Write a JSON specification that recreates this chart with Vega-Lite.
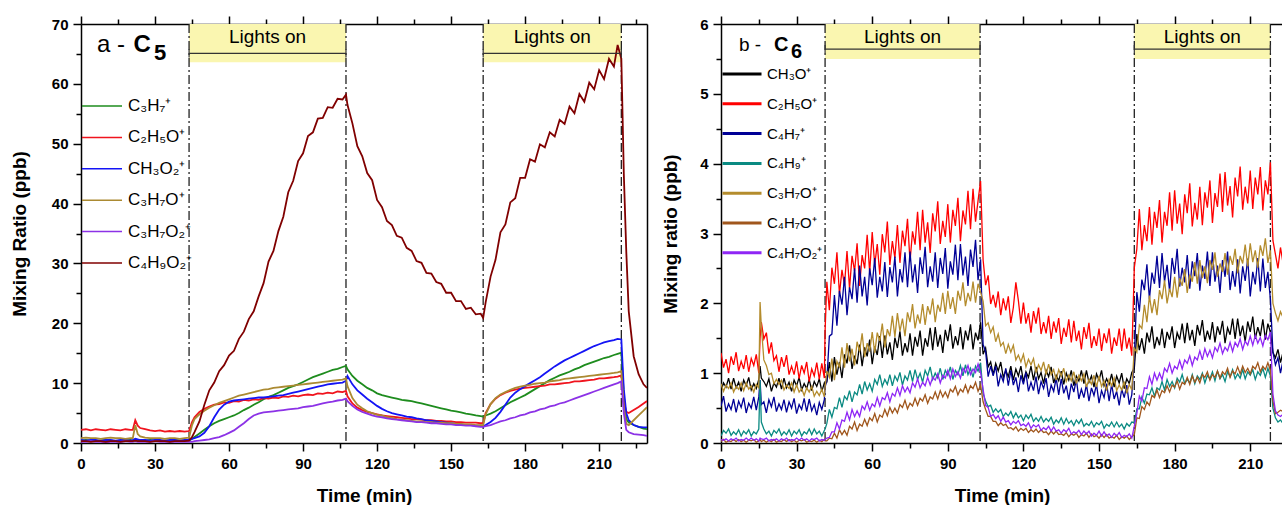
{
"$schema": "https://vega.github.io/schema/vega-lite/v6.json",
"padding": {"left": 10, "top": 15, "right": 0, "bottom": 0},
"background": "white",
"spacing": 14,
"config": {
  "view": {"stroke": null},
  "font": "Liberation Sans",
  "axis": {"labelFont": "Liberation Sans", "labelFontWeight": "bold", "labelFontSize": 15, "labelColor": "#000", "titleFont": "Liberation Sans", "titleFontWeight": "bold", "titleFontSize": 19, "titleColor": "#000", "domainColor": "#000", "domainWidth": 1.5, "tickColor": "#000", "tickWidth": 1.5, "grid": false, "labelPadding": 5, "tickSize": 8, "labelFlush": false, "labelOverlap": false, "zindex": 1}
},
"resolve": {"scale": {"color": "independent"}},
"hconcat": [
{
  "width": 566, "height": 419,
  "data": {"values": [{"start": 43.8, "end": 107.4}, {"start": 163, "end": 219}]},
  "resolve": {"axis": {"x": "independent", "y": "independent"}},
  "layer": [
    {"mark": {"type": "rect", "color": "#faf6b0"},
     "encoding": {
       "x": {"field": "start", "type": "quantitative", "scale": {"domain": [0, 229.4], "nice": false, "zero": false},
             "axis": {"orient": "bottom", "values": [0,30,60,90,120,150,180,210], "title": "Time (min)", "titlePadding": 15}},
       "x2": {"field": "end"},
       "y": {"datum": 63.6, "type": "quantitative", "scale": {"domain": [0, 70], "nice": false, "zero": false},
             "axis": {"orient": "left", "values": [0,10,20,30,40,50,60,70], "title": "Mixing Ratio (ppb)", "titlePadding": 22}},
       "y2": {"datum": 70}
     }},
    {"transform": [{"fold": ["start", "end"], "as": ["edge", "tx"]}],
     "mark": {"type": "rule", "strokeDash": [9,3,2,3], "strokeWidth": 1.3, "color": "#222"},
     "encoding": {
       "x": {"field": "tx", "type": "quantitative", "axis": {"orient": "top", "values": [0,30,60,90,120,150,180,210], "labels": false, "title": null}}
     }},
    {"transform": [{"fold": ["g","r","b","o","p","d"], "as": ["s", "v"]}],
     "data": {"values": [
{"t":0,"g":0.4,"r":2.2,"b":0.5,"o":0.8,"p":0.2,"d":0.3},
{"t":2,"g":0.5,"r":2.3,"b":0.4,"o":0.9,"p":0.2,"d":0.3},
{"t":4,"g":0.4,"r":2.1,"b":0.5,"o":0.8,"p":0.3,"d":0.2},
{"t":6,"g":0.3,"r":2.3,"b":0.5,"o":0.8,"p":0.2,"d":0.3},
{"t":8,"g":0.4,"r":2.2,"b":0.4,"o":0.7,"p":0.2,"d":0.3},
{"t":10,"g":0.5,"r":2.1,"b":0.5,"o":0.8,"p":0.1,"d":0.2},
{"t":12,"g":0.4,"r":2.3,"b":0.5,"o":0.9,"p":0.2,"d":0.3},
{"t":14,"g":0.3,"r":2.2,"b":0.4,"o":0.8,"p":0.2,"d":0.3},
{"t":16,"g":0.4,"r":2.1,"b":0.5,"o":0.8,"p":0.2,"d":0.2},
{"t":18,"g":0.4,"r":2.3,"b":0.5,"o":0.7,"p":0.3,"d":0.3},
{"t":20,"g":0.5,"r":2.2,"b":0.4,"o":0.8,"p":0.2,"d":0.3},
{"t":21,"g":0.4,"r":2.2,"b":0.5,"o":0.8,"p":0.2,"d":0.3},
{"t":22,"g":0.6,"r":3.8,"b":0.7,"o":3.0,"p":0.3,"d":0.4},
{"t":23,"g":0.5,"r":2.9,"b":0.6,"o":1.5,"p":0.2,"d":0.3},
{"t":24,"g":0.4,"r":2.5,"b":0.5,"o":1.1,"p":0.2,"d":0.3},
{"t":26,"g":0.4,"r":2.3,"b":0.5,"o":0.9,"p":0.2,"d":0.3},
{"t":28,"g":0.5,"r":2.1,"b":0.4,"o":0.8,"p":0.2,"d":0.2},
{"t":30,"g":0.4,"r":2.0,"b":0.5,"o":0.8,"p":0.3,"d":0.3},
{"t":32,"g":0.3,"r":2.1,"b":0.5,"o":0.8,"p":0.2,"d":0.3},
{"t":34,"g":0.4,"r":1.9,"b":0.4,"o":0.7,"p":0.2,"d":0.3},
{"t":36,"g":0.4,"r":2.0,"b":0.5,"o":0.8,"p":0.2,"d":0.2},
{"t":38,"g":0.5,"r":1.9,"b":0.5,"o":0.8,"p":0.2,"d":0.3},
{"t":40,"g":0.4,"r":2.0,"b":0.4,"o":0.7,"p":0.2,"d":0.3},
{"t":42,"g":0.4,"r":1.9,"b":0.5,"o":0.8,"p":0.2,"d":0.3},
{"t":43.8,"g":0.4,"r":2.0,"b":0.5,"o":0.9,"p":0.2,"d":0.4},
{"t":45,"g":0.7,"r":3.5,"b":0.7,"o":3.0,"p":0.2,"d":1.0},
{"t":46,"g":1.0,"r":4.3,"b":0.8,"o":4.0,"p":0.3,"d":1.8},
{"t":48,"g":1.6,"r":5.2,"b":1.1,"o":4.8,"p":0.4,"d":3.6},
{"t":50,"g":2.2,"r":5.7,"b":1.7,"o":5.4,"p":0.5,"d":6.4},
{"t":52,"g":2.8,"r":6.1,"b":2.8,"o":5.9,"p":0.6,"d":8.8},
{"t":54,"g":3.3,"r":6.4,"b":4.3,"o":6.3,"p":0.8,"d":10.1},
{"t":56,"g":3.7,"r":6.5,"b":5.6,"o":6.7,"p":1.0,"d":12.0},
{"t":58,"g":4.0,"r":6.8,"b":6.4,"o":7.0,"p":1.3,"d":13.0},
{"t":60,"g":4.3,"r":6.7,"b":6.9,"o":7.3,"p":1.7,"d":14.6},
{"t":62,"g":4.6,"r":7.0,"b":7.1,"o":7.6,"p":2.1,"d":15.4},
{"t":64,"g":5.0,"r":6.9,"b":7.2,"o":7.9,"p":2.7,"d":17.4},
{"t":66,"g":5.5,"r":7.2,"b":7.3,"o":8.1,"p":3.3,"d":18.6},
{"t":68,"g":5.9,"r":7.1,"b":7.4,"o":8.3,"p":4.0,"d":20.7},
{"t":70,"g":6.4,"r":7.3,"b":7.5,"o":8.5,"p":4.6,"d":22.0},
{"t":72,"g":6.8,"r":7.2,"b":7.6,"o":8.7,"p":4.9,"d":24.5},
{"t":74,"g":7.3,"r":7.5,"b":7.6,"o":8.9,"p":5.1,"d":26.7},
{"t":76,"g":7.7,"r":7.4,"b":7.7,"o":9.0,"p":5.2,"d":30.3},
{"t":78,"g":8.0,"r":7.6,"b":7.8,"o":9.2,"p":5.3,"d":32.1},
{"t":80,"g":8.4,"r":7.5,"b":7.9,"o":9.3,"p":5.4,"d":35.4},
{"t":82,"g":8.8,"r":7.8,"b":8.0,"o":9.4,"p":5.5,"d":37.8},
{"t":84,"g":9.2,"r":7.7,"b":8.2,"o":9.5,"p":5.6,"d":41.9},
{"t":86,"g":9.5,"r":7.9,"b":8.4,"o":9.6,"p":5.7,"d":43.8},
{"t":88,"g":9.8,"r":7.8,"b":8.6,"o":9.7,"p":5.8,"d":47.1},
{"t":90,"g":10.2,"r":8.0,"b":8.8,"o":9.8,"p":6.0,"d":48.4},
{"t":92,"g":10.6,"r":8.1,"b":9.0,"o":9.9,"p":6.1,"d":51.3},
{"t":94,"g":11.0,"r":8.0,"b":9.2,"o":10.0,"p":6.2,"d":51.9},
{"t":96,"g":11.3,"r":8.3,"b":9.4,"o":10.1,"p":6.4,"d":54.2},
{"t":98,"g":11.6,"r":8.2,"b":9.6,"o":10.2,"p":6.6,"d":54.3},
{"t":100,"g":11.9,"r":8.4,"b":9.8,"o":10.3,"p":6.8,"d":56.1},
{"t":102,"g":12.2,"r":8.3,"b":9.9,"o":10.4,"p":6.9,"d":56.0},
{"t":104,"g":12.4,"r":8.6,"b":10.0,"o":10.5,"p":7.1,"d":57.5},
{"t":106,"g":12.7,"r":8.5,"b":10.1,"o":10.6,"p":7.2,"d":57.4},
{"t":107.4,"g":12.9,"r":8.7,"b":10.4,"o":10.8,"p":7.4,"d":58.2},
{"t":108,"g":12.3,"r":7.8,"b":11.2,"o":9.5,"p":7.0,"d":56.5},
{"t":110,"g":11.2,"r":6.6,"b":9.8,"o":7.5,"p":6.2,"d":53.4},
{"t":112,"g":10.4,"r":5.9,"b":8.8,"o":6.4,"p":5.6,"d":49.6},
{"t":114,"g":9.8,"r":5.5,"b":8.1,"o":5.8,"p":5.2,"d":47.9},
{"t":116,"g":9.2,"r":5.2,"b":7.4,"o":5.3,"p":4.9,"d":45.1},
{"t":118,"g":8.8,"r":5.0,"b":6.8,"o":5.0,"p":4.6,"d":43.9},
{"t":120,"g":8.3,"r":4.8,"b":6.2,"o":4.7,"p":4.4,"d":40.6},
{"t":122,"g":8.0,"r":4.6,"b":5.7,"o":4.6,"p":4.3,"d":39.4},
{"t":124,"g":7.8,"r":4.5,"b":5.3,"o":4.3,"p":4.1,"d":37.1},
{"t":126,"g":7.6,"r":4.4,"b":5.0,"o":4.2,"p":4.0,"d":36.4},
{"t":128,"g":7.4,"r":4.3,"b":4.8,"o":4.0,"p":3.9,"d":34.6},
{"t":130,"g":7.2,"r":4.2,"b":4.6,"o":3.9,"p":3.8,"d":34.3},
{"t":132,"g":7.1,"r":4.1,"b":4.4,"o":3.8,"p":3.7,"d":32.6},
{"t":134,"g":7.0,"r":4.0,"b":4.3,"o":3.7,"p":3.6,"d":32.1},
{"t":136,"g":6.8,"r":4.0,"b":4.1,"o":3.6,"p":3.5,"d":30.4},
{"t":138,"g":6.6,"r":3.9,"b":4.0,"o":3.6,"p":3.5,"d":30.1},
{"t":140,"g":6.4,"r":3.8,"b":3.8,"o":3.5,"p":3.4,"d":28.4},
{"t":142,"g":6.2,"r":3.8,"b":3.7,"o":3.5,"p":3.3,"d":28.3},
{"t":144,"g":6.0,"r":3.7,"b":3.6,"o":3.4,"p":3.3,"d":26.9},
{"t":146,"g":5.8,"r":3.7,"b":3.5,"o":3.4,"p":3.2,"d":26.6},
{"t":148,"g":5.6,"r":3.6,"b":3.4,"o":3.3,"p":3.1,"d":25.1},
{"t":150,"g":5.4,"r":3.6,"b":3.3,"o":3.3,"p":3.1,"d":25.1},
{"t":152,"g":5.3,"r":3.5,"b":3.2,"o":3.2,"p":3.0,"d":23.7},
{"t":154,"g":5.1,"r":3.5,"b":3.1,"o":3.2,"p":3.0,"d":23.7},
{"t":156,"g":4.9,"r":3.4,"b":3.0,"o":3.1,"p":2.9,"d":22.4},
{"t":158,"g":4.8,"r":3.4,"b":3.0,"o":3.1,"p":2.9,"d":22.6},
{"t":160,"g":4.6,"r":3.4,"b":2.9,"o":3.0,"p":2.8,"d":21.5},
{"t":162,"g":4.5,"r":3.3,"b":2.9,"o":3.0,"p":2.7,"d":21.6},
{"t":163,"g":4.4,"r":3.3,"b":2.8,"o":3.0,"p":2.7,"d":20.9},
{"t":164,"g":4.6,"r":5.0,"b":3.0,"o":4.8,"p":2.8,"d":23.5},
{"t":166,"g":4.9,"r":6.5,"b":3.5,"o":6.5,"p":3.0,"d":27.8},
{"t":168,"g":5.3,"r":7.4,"b":4.2,"o":7.5,"p":3.3,"d":30.6},
{"t":170,"g":5.8,"r":8.0,"b":5.2,"o":8.1,"p":3.6,"d":35.2},
{"t":172,"g":6.3,"r":8.4,"b":6.4,"o":8.5,"p":3.8,"d":36.5},
{"t":174,"g":6.8,"r":8.7,"b":7.6,"o":8.9,"p":4.1,"d":40.2},
{"t":176,"g":7.2,"r":8.9,"b":8.4,"o":9.2,"p":4.3,"d":40.9},
{"t":178,"g":7.6,"r":9.1,"b":9.0,"o":9.4,"p":4.6,"d":44.3},
{"t":180,"g":8.0,"r":9.2,"b":9.5,"o":9.6,"p":4.8,"d":44.3},
{"t":182,"g":8.5,"r":9.3,"b":10.0,"o":9.7,"p":5.1,"d":47.4},
{"t":184,"g":9.0,"r":9.4,"b":10.5,"o":9.9,"p":5.3,"d":47.0},
{"t":186,"g":9.5,"r":9.5,"b":11.0,"o":10.0,"p":5.6,"d":49.9},
{"t":188,"g":10.0,"r":9.6,"b":11.6,"o":10.1,"p":5.8,"d":49.4},
{"t":190,"g":10.5,"r":9.8,"b":12.2,"o":10.3,"p":6.1,"d":51.9},
{"t":192,"g":10.9,"r":9.8,"b":12.8,"o":10.4,"p":6.3,"d":51.2},
{"t":194,"g":11.3,"r":9.9,"b":13.3,"o":10.5,"p":6.6,"d":54.0},
{"t":196,"g":11.6,"r":10.0,"b":13.8,"o":10.7,"p":6.8,"d":53.3},
{"t":198,"g":11.9,"r":10.1,"b":14.2,"o":10.8,"p":7.1,"d":56.2},
{"t":200,"g":12.3,"r":10.3,"b":14.6,"o":10.9,"p":7.4,"d":55.1},
{"t":202,"g":12.6,"r":10.3,"b":15.0,"o":11.0,"p":7.7,"d":58.3},
{"t":204,"g":13.0,"r":10.4,"b":15.4,"o":11.1,"p":8.0,"d":57.0},
{"t":206,"g":13.3,"r":10.5,"b":15.8,"o":11.2,"p":8.3,"d":60.2},
{"t":208,"g":13.6,"r":10.6,"b":16.2,"o":11.3,"p":8.6,"d":59.1},
{"t":210,"g":13.9,"r":10.8,"b":16.5,"o":11.4,"p":8.9,"d":62.3},
{"t":212,"g":14.2,"r":10.8,"b":16.8,"o":11.5,"p":9.2,"d":60.8},
{"t":214,"g":14.4,"r":10.9,"b":17.0,"o":11.6,"p":9.5,"d":64.2},
{"t":216,"g":14.7,"r":11.0,"b":17.2,"o":11.7,"p":9.8,"d":62.9},
{"t":217.5,"g":14.9,"r":11.1,"b":17.4,"o":11.8,"p":10.0,"d":66.5},
{"t":219,"g":15.1,"r":11.3,"b":17.3,"o":12.0,"p":10.3,"d":64.2},
{"t":220,"g":8.0,"r":7.0,"b":9.0,"o":6.0,"p":5.0,"d":45.0},
{"t":221,"g":4.0,"r":5.2,"b":5.0,"o":3.2,"p":2.2,"d":32.0},
{"t":222,"g":3.4,"r":5.0,"b":3.8,"o":3.0,"p":1.8,"d":22.0},
{"t":224,"g":3.0,"r":5.5,"b":3.0,"o":3.8,"p":1.5,"d":14.5},
{"t":226,"g":2.7,"r":6.0,"b":2.7,"o":4.6,"p":1.4,"d":11.5},
{"t":228,"g":2.4,"r":6.6,"b":2.6,"o":5.4,"p":1.3,"d":9.8},
{"t":229.4,"g":2.3,"r":7.0,"b":2.6,"o":6.0,"p":1.2,"d":9.2}
     ]},
     "mark": {"type": "line", "strokeWidth": 1.8, "clip": true},
     "encoding": {
       "x": {"field": "t", "type": "quantitative", "axis": null},
       "y": {"field": "v", "type": "quantitative", "axis": null},
       "color": {"field": "s", "type": "nominal",
         "scale": {"domain": ["g","r","b","o","p","d"], "range": ["#1e8c1e","#f0141e","#1414f5","#ab8a32","#8c32e6","#800000"]},
         "legend": {"orient": "none", "legendX": 0, "legendY": 61, "title": null, "symbolType": "stroke", "symbolSize": 1600, "symbolStrokeWidth": 1.5, "labelFont": "Liberation Sans", "labelFontSize": 17, "labelColor": "#000", "labelOffset": 5, "rowPadding": 2.4, "padding": 0,
           "labelExpr": "datum.value=='g'?'C₃H₇⁺':datum.value=='r'?'C₂H₅O⁺':datum.value=='b'?'CH₃O₂⁺':datum.value=='o'?'C₃H₇O⁺':datum.value=='p'?'C₃H₇O₂⁺':'C₄H₉O₂⁺'"}}
     }},
    {"mark": {"type": "rule", "color": "#333", "strokeWidth": 1.2},
     "encoding": {
       "x": {"field": "start", "type": "quantitative", "axis": {"orient": "bottom", "values": [15,45,75,105,135,165,195,225], "labels": false, "domain": false, "title": null, "tickSize": 5}},
       "x2": {"field": "end"},
       "y": {"datum": 65.1, "type": "quantitative", "axis": {"orient": "left", "values": [5,15,25,35,45,55,65], "labels": false, "domain": false, "title": null, "tickSize": 5}}
     }},
    {"transform": [{"fold": ["start", "end"], "as": ["edge", "tx"]}],
     "mark": {"type": "rule", "color": "#333", "strokeWidth": 1.2},
     "encoding": {
       "x": {"field": "tx", "type": "quantitative", "axis": {"orient": "top", "values": [15,45,75,105,135,165,195,225], "labels": false, "domain": false, "title": null, "tickSize": 5}},
       "y": {"datum": 64.4, "type": "quantitative", "axis": {"orient": "right", "ticks": false, "labels": false, "title": null}},
       "y2": {"datum": 65.8}
     }},
    {"transform": [{"calculate": "(datum.start + datum.end) / 2", "as": "mid"}],
     "mark": {"type": "text", "text": "Lights on", "font": "Liberation Sans", "fontSize": 19, "baseline": "middle", "color": "#000"},
     "encoding": {
       "x": {"field": "mid", "type": "quantitative", "axis": null},
       "y": {"datum": 67.9, "type": "quantitative", "axis": null}
     }},
    {"data": {"values": [{}]},
     "mark": {"type": "text", "text": "a -", "font": "Liberation Sans", "fontSize": 24, "align": "left", "baseline": "alphabetic", "color": "#000"},
     "encoding": {"x": {"datum": 6.5, "type": "quantitative", "axis": null}, "y": {"datum": 65.4, "type": "quantitative", "axis": null}}},
    {"data": {"values": [{}]},
     "mark": {"type": "text", "text": "C", "font": "Liberation Sans", "fontSize": 24, "fontWeight": "bold", "align": "left", "baseline": "alphabetic", "color": "#000"},
     "encoding": {"x": {"datum": 21.3, "type": "quantitative", "axis": null}, "y": {"datum": 65.4, "type": "quantitative", "axis": null}}},
    {"data": {"values": [{}]},
     "mark": {"type": "text", "text": "5", "font": "Liberation Sans", "fontSize": 22, "fontWeight": "bold", "align": "left", "baseline": "alphabetic", "color": "#000"},
     "encoding": {"x": {"datum": 29.6, "type": "quantitative", "axis": null}, "y": {"datum": 64.0, "type": "quantitative", "axis": null}}}
  ]
},
{
  "width": 562, "height": 419,
  "data": {"values": [{"start": 41.3, "end": 102.8}, {"start": 164, "end": 218}]},
  "resolve": {"axis": {"x": "independent", "y": "independent"}},
  "layer": [
    {"mark": {"type": "rect", "color": "#faf6b0"},
     "encoding": {
       "x": {"field": "start", "type": "quantitative", "scale": {"domain": [0, 223], "nice": false, "zero": false},
             "axis": {"orient": "bottom", "values": [0,30,60,90,120,150,180,210], "title": "Time (min)", "titlePadding": 15}},
       "x2": {"field": "end"},
       "y": {"datum": 5.5, "type": "quantitative", "scale": {"domain": [0, 6], "nice": false, "zero": false},
             "axis": {"orient": "left", "values": [0,1,2,3,4,5,6], "title": "Mixing ratio (ppb)", "titlePadding": 19}},
       "y2": {"datum": 6}
     }},
    {"transform": [{"fold": ["start", "end"], "as": ["edge", "tx"]}],
     "mark": {"type": "rule", "strokeDash": [9,3,2,3], "strokeWidth": 1.3, "color": "#222"},
     "encoding": {
       "x": {"field": "tx", "type": "quantitative", "axis": {"orient": "top", "values": [0,30,60,90,120,150,180,210], "labels": false, "title": null}}
     }},
    {"transform": [{"fold": ["k","r","n","c","o","w","p"], "as": ["s", "v"]}],
     "data": {"values": [
{"t":0,"k":0.74,"r":1.29,"n":0.53,"c":0.1,"o":0.85,"w":0.02,"p":0.05},
{"t":1,"k":0.86,"r":1.08,"n":0.67,"c":0.18,"o":0.74,"w":0.05,"p":0.04},
{"t":2,"k":0.8,"r":1.2,"n":0.45,"c":0.14,"o":0.83,"w":0.01,"p":0.06},
{"t":3,"k":0.93,"r":1.0,"n":0.56,"c":0.2,"o":0.78,"w":0.03,"p":0.03},
{"t":4,"k":0.77,"r":1.24,"n":0.48,"c":0.11,"o":0.86,"w":0.02,"p":0.06},
{"t":5,"k":0.93,"r":1.12,"n":0.63,"c":0.16,"o":0.73,"w":0.05,"p":0.04},
{"t":6,"k":0.79,"r":1.3,"n":0.44,"c":0.12,"o":0.81,"w":0.02,"p":0.07},
{"t":7,"k":0.87,"r":1.03,"n":0.6,"c":0.19,"o":0.77,"w":0.05,"p":0.03},
{"t":8,"k":0.74,"r":1.17,"n":0.51,"c":0.1,"o":0.86,"w":0.02,"p":0.05},
{"t":9,"k":0.9,"r":1.06,"n":0.65,"c":0.17,"o":0.75,"w":0.04,"p":0.04},
{"t":10,"k":0.82,"r":1.26,"n":0.43,"c":0.13,"o":0.86,"w":0.01,"p":0.07},
{"t":11,"k":0.94,"r":1.02,"n":0.57,"c":0.19,"o":0.77,"w":0.04,"p":0.04},
{"t":12,"k":0.76,"r":1.21,"n":0.5,"c":0.1,"o":0.82,"w":0.03,"p":0.07},
{"t":13,"k":0.85,"r":1.11,"n":0.66,"c":0.16,"o":0.73,"w":0.05,"p":0.04},
{"t":14,"k":0.78,"r":1.27,"n":0.47,"c":0.13,"o":0.84,"w":0.01,"p":0.06},
{"t":15,"k":0.91,"r":1.0,"n":0.66,"c":0.2,"o":0.79,"w":0.03,"p":0.03},
{"t":15.5,"k":1.1,"r":1.5,"n":0.9,"c":0.9,"o":2.02,"w":0.05,"p":0.07},
{"t":16,"k":0.93,"r":1.73,"n":0.55,"c":0.3,"o":1.67,"w":0.02,"p":0.06},
{"t":17,"k":0.88,"r":1.49,"n":0.59,"c":0.2,"o":1.19,"w":0.04,"p":0.05},
{"t":18,"k":0.81,"r":1.58,"n":0.43,"c":0.13,"o":1.11,"w":0.01,"p":0.07},
{"t":19,"k":0.92,"r":1.28,"n":0.62,"c":0.17,"o":0.98,"w":0.04,"p":0.03},
{"t":20,"k":0.74,"r":1.44,"n":0.52,"c":0.1,"o":1.0,"w":0.02,"p":0.05},
{"t":21,"k":0.86,"r":1.18,"n":0.66,"c":0.18,"o":0.85,"w":0.05,"p":0.04},
{"t":22,"k":0.8,"r":1.25,"n":0.45,"c":0.14,"o":0.91,"w":0.01,"p":0.06},
{"t":23,"k":0.93,"r":1.02,"n":0.56,"c":0.2,"o":0.84,"w":0.03,"p":0.03},
{"t":24,"k":0.77,"r":1.23,"n":0.48,"c":0.11,"o":0.9,"w":0.02,"p":0.06},
{"t":25,"k":0.93,"r":1.09,"n":0.62,"c":0.16,"o":0.76,"w":0.05,"p":0.04},
{"t":26,"k":0.79,"r":1.26,"n":0.44,"c":0.12,"o":0.83,"w":0.02,"p":0.07},
{"t":27,"k":0.87,"r":0.98,"n":0.59,"c":0.19,"o":0.78,"w":0.05,"p":0.03},
{"t":28,"k":0.74,"r":1.1,"n":0.5,"c":0.1,"o":0.86,"w":0.02,"p":0.05},
{"t":29,"k":0.9,"r":0.98,"n":0.64,"c":0.17,"o":0.73,"w":0.04,"p":0.04},
{"t":30,"k":0.82,"r":1.17,"n":0.42,"c":0.13,"o":0.83,"w":0.01,"p":0.07},
{"t":31,"k":0.94,"r":0.92,"n":0.55,"c":0.19,"o":0.73,"w":0.04,"p":0.04},
{"t":32,"k":0.76,"r":1.11,"n":0.48,"c":0.1,"o":0.78,"w":0.03,"p":0.07},
{"t":33,"k":0.85,"r":1.0,"n":0.64,"c":0.16,"o":0.68,"w":0.05,"p":0.04},
{"t":34,"k":0.78,"r":1.16,"n":0.45,"c":0.13,"o":0.79,"w":0.01,"p":0.06},
{"t":35,"k":0.91,"r":0.88,"n":0.63,"c":0.2,"o":0.73,"w":0.03,"p":0.03},
{"t":36,"k":0.75,"r":1.06,"n":0.46,"c":0.12,"o":0.81,"w":0.02,"p":0.06},
{"t":37,"k":0.88,"r":0.96,"n":0.55,"c":0.2,"o":0.67,"w":0.04,"p":0.05},
{"t":38,"k":0.81,"r":1.15,"n":0.4,"c":0.13,"o":0.74,"w":0.01,"p":0.07},
{"t":39,"k":0.92,"r":0.91,"n":0.58,"c":0.17,"o":0.68,"w":0.04,"p":0.03},
{"t":40,"k":0.74,"r":1.14,"n":0.48,"c":0.1,"o":0.77,"w":0.02,"p":0.05},
{"t":41,"k":0.86,"r":0.93,"n":0.62,"c":0.18,"o":0.66,"w":0.05,"p":0.04},
{"t":41.3,"k":0.85,"r":1.6,"n":0.8,"c":0.2,"o":0.8,"w":0.03,"p":0.05},
{"t":42,"k":0.87,"r":2.31,"n":0.9,"c":0.28,"o":1.03,"w":0.03,"p":0.07},
{"t":43,"k":1.16,"r":1.9,"n":1.53,"c":0.48,"o":0.94,"w":0.07,"p":0.08},
{"t":44,"k":0.88,"r":2.51,"n":1.56,"c":0.37,"o":1.21,"w":0.06,"p":0.16},
{"t":45,"k":1.23,"r":2.28,"n":2.12,"c":0.51,"o":0.9,"w":0.14,"p":0.16},
{"t":46,"k":0.98,"r":2.73,"n":1.68,"c":0.49,"o":1.17,"w":0.07,"p":0.29},
{"t":47,"k":1.16,"r":2.13,"n":2.18,"c":0.65,"o":1.08,"w":0.19,"p":0.2},
{"t":48,"k":0.93,"r":2.48,"n":1.98,"c":0.51,"o":1.37,"w":0.12,"p":0.33},
{"t":49,"k":1.27,"r":2.26,"n":2.38,"c":0.67,"o":1.08,"w":0.18,"p":0.31},
{"t":50,"k":1.14,"r":2.75,"n":1.83,"c":0.62,"o":1.43,"w":0.11,"p":0.44},
{"t":51,"k":1.4,"r":2.21,"n":2.23,"c":0.75,"o":1.17,"w":0.24,"p":0.33},
{"t":52,"k":1.06,"r":2.68,"n":2.06,"c":0.59,"o":1.35,"w":0.2,"p":0.48},
{"t":53,"k":1.25,"r":2.46,"n":2.5,"c":0.73,"o":1.11,"w":0.3,"p":0.38},
{"t":54,"k":1.13,"r":2.86,"n":2.01,"c":0.69,"o":1.45,"w":0.18,"p":0.46},
{"t":55,"k":1.41,"r":2.25,"n":2.54,"c":0.84,"o":1.31,"w":0.27,"p":0.38},
{"t":56,"k":1.1,"r":2.69,"n":2.1,"c":0.7,"o":1.57,"w":0.24,"p":0.53},
{"t":57,"k":1.37,"r":2.5,"n":2.38,"c":0.88,"o":1.23,"w":0.34,"p":0.48},
{"t":58,"k":1.24,"r":2.98,"n":1.97,"c":0.76,"o":1.43,"w":0.25,"p":0.59},
{"t":59,"k":1.48,"r":2.44,"n":2.5,"c":0.85,"o":1.31,"w":0.36,"p":0.47},
{"t":60,"k":1.13,"r":3.02,"n":2.26,"c":0.74,"o":1.59,"w":0.32,"p":0.56},
{"t":61,"k":1.38,"r":2.55,"n":2.65,"c":0.91,"o":1.29,"w":0.42,"p":0.52},
{"t":62,"k":1.26,"r":2.85,"n":2.08,"c":0.84,"o":1.58,"w":0.3,"p":0.65},
{"t":63,"k":1.53,"r":2.41,"n":2.38,"c":0.98,"o":1.46,"w":0.4,"p":0.53},
{"t":64,"k":1.22,"r":2.99,"n":2.17,"c":0.81,"o":1.71,"w":0.37,"p":0.65},
{"t":65,"k":1.54,"r":2.73,"n":2.59,"c":0.91,"o":1.37,"w":0.48,"p":0.62},
{"t":66,"k":1.27,"r":3.17,"n":2.09,"c":0.84,"o":1.63,"w":0.39,"p":0.72},
{"t":67,"k":1.44,"r":2.55,"n":2.52,"c":0.98,"o":1.53,"w":0.51,"p":0.59},
{"t":68,"k":1.19,"r":2.89,"n":2.3,"c":0.82,"o":1.82,"w":0.43,"p":0.71},
{"t":69,"k":1.51,"r":2.65,"n":2.67,"c":0.96,"o":1.52,"w":0.5,"p":0.67},
{"t":70,"k":1.36,"r":3.12,"n":2.1,"c":0.89,"o":1.86,"w":0.43,"p":0.79},
{"t":71,"k":1.6,"r":2.58,"n":2.49,"c":1.01,"o":1.6,"w":0.55,"p":0.68},
{"t":72,"k":1.25,"r":3.04,"n":2.3,"c":0.83,"o":1.78,"w":0.51,"p":0.82},
{"t":73,"k":1.43,"r":2.82,"n":2.73,"c":0.96,"o":1.53,"w":0.61,"p":0.73},
{"t":74,"k":1.3,"r":3.21,"n":2.23,"c":0.9,"o":1.87,"w":0.49,"p":0.8},
{"t":75,"k":1.57,"r":2.6,"n":2.74,"c":1.04,"o":1.73,"w":0.57,"p":0.72},
{"t":76,"k":1.25,"r":3.03,"n":2.3,"c":0.88,"o":1.99,"w":0.53,"p":0.86},
{"t":77,"k":1.52,"r":2.84,"n":2.56,"c":1.05,"o":1.64,"w":0.64,"p":0.8},
{"t":78,"k":1.38,"r":3.31,"n":2.15,"c":0.91,"o":1.84,"w":0.54,"p":0.92},
{"t":79,"k":1.61,"r":2.76,"n":2.66,"c":1.0,"o":1.71,"w":0.64,"p":0.79},
{"t":80,"k":1.25,"r":3.34,"n":2.42,"c":0.87,"o":1.99,"w":0.6,"p":0.87},
{"t":81,"k":1.5,"r":2.87,"n":2.81,"c":1.04,"o":1.69,"w":0.69,"p":0.82},
{"t":82,"k":1.38,"r":3.16,"n":2.23,"c":0.96,"o":1.96,"w":0.57,"p":0.94},
{"t":83,"k":1.65,"r":2.72,"n":2.53,"c":1.09,"o":1.84,"w":0.66,"p":0.83},
{"t":84,"k":1.33,"r":3.29,"n":2.31,"c":0.91,"o":2.07,"w":0.63,"p":0.94},
{"t":85,"k":1.66,"r":3.03,"n":2.73,"c":1.0,"o":1.73,"w":0.73,"p":0.9},
{"t":86,"k":1.38,"r":3.46,"n":2.22,"c":0.93,"o":1.98,"w":0.63,"p":0.99},
{"t":87,"k":1.55,"r":2.85,"n":2.65,"c":1.07,"o":1.88,"w":0.75,"p":0.86},
{"t":88,"k":1.29,"r":3.18,"n":2.42,"c":0.91,"o":2.15,"w":0.66,"p":0.97},
{"t":89,"k":1.62,"r":2.95,"n":2.79,"c":1.04,"o":1.85,"w":0.73,"p":0.93},
{"t":90,"k":1.46,"r":3.42,"n":2.21,"c":0.97,"o":2.18,"w":0.65,"p":1.04},
{"t":91,"k":1.7,"r":2.87,"n":2.6,"c":1.09,"o":1.92,"w":0.77,"p":0.92},
{"t":92,"k":1.35,"r":3.34,"n":2.41,"c":0.91,"o":2.09,"w":0.73,"p":1.06},
{"t":93,"k":1.53,"r":3.11,"n":2.84,"c":1.04,"o":1.85,"w":0.81,"p":0.95},
{"t":94,"k":1.4,"r":3.51,"n":2.33,"c":0.98,"o":2.18,"w":0.69,"p":1.02},
{"t":95,"k":1.66,"r":2.89,"n":2.85,"c":1.11,"o":2.04,"w":0.77,"p":0.93},
{"t":96,"k":1.34,"r":3.33,"n":2.4,"c":0.96,"o":2.3,"w":0.73,"p":1.07},
{"t":97,"k":1.61,"r":3.13,"n":2.67,"c":1.12,"o":1.96,"w":0.83,"p":1.01},
{"t":98,"k":1.47,"r":3.61,"n":2.25,"c":0.98,"o":2.15,"w":0.72,"p":1.11},
{"t":99,"k":1.7,"r":3.06,"n":2.77,"c":1.07,"o":2.03,"w":0.82,"p":0.98},
{"t":100,"k":1.34,"r":3.64,"n":2.52,"c":0.94,"o":2.31,"w":0.78,"p":1.06},
{"t":101,"k":1.58,"r":3.17,"n":2.91,"c":1.1,"o":2.01,"w":0.87,"p":1.01},
{"t":102,"k":1.47,"r":3.47,"n":2.33,"c":1.03,"o":2.28,"w":0.74,"p":1.13},
{"t":103,"k":1.73,"r":3.75,"n":2.63,"c":1.15,"o":2.16,"w":0.83,"p":1.01},
{"t":104,"k":1.27,"r":2.62,"n":1.41,"c":0.71,"o":2.03,"w":0.59,"p":0.77},
{"t":105,"k":1.36,"r":2.26,"n":1.31,"c":0.6,"o":1.68,"w":0.48,"p":0.54},
{"t":106,"k":1.09,"r":2.4,"n":0.95,"c":0.52,"o":1.72,"w":0.38,"p":0.51},
{"t":107,"k":1.16,"r":1.99,"n":1.1,"c":0.54,"o":1.58,"w":0.38,"p":0.38},
{"t":108,"k":0.98,"r":2.12,"n":0.96,"c":0.44,"o":1.66,"w":0.31,"p":0.41},
{"t":109,"k":1.14,"r":1.94,"n":1.1,"c":0.49,"o":1.45,"w":0.31,"p":0.35},
{"t":110,"k":1.03,"r":2.17,"n":0.81,"c":0.44,"o":1.56,"w":0.25,"p":0.39},
{"t":111,"k":1.16,"r":1.83,"n":0.98,"c":0.48,"o":1.39,"w":0.29,"p":0.31},
{"t":112,"k":0.94,"r":2.07,"n":0.88,"c":0.38,"o":1.44,"w":0.25,"p":0.37},
{"t":113,"k":1.04,"r":1.9,"n":1.07,"c":0.43,"o":1.28,"w":0.27,"p":0.3},
{"t":114,"k":0.95,"r":2.1,"n":0.82,"c":0.39,"o":1.41,"w":0.21,"p":0.32},
{"t":115,"k":1.1,"r":1.72,"n":1.04,"c":0.45,"o":1.3,"w":0.22,"p":0.26},
{"t":116,"k":0.9,"r":1.94,"n":0.83,"c":0.36,"o":1.4,"w":0.19,"p":0.31},
{"t":117,"k":1.06,"r":2.3,"n":0.94,"c":0.43,"o":1.19,"w":0.23,"p":0.28},
{"t":118,"k":0.96,"r":2.04,"n":0.73,"c":0.36,"o":1.26,"w":0.17,"p":0.32},
{"t":119,"k":1.1,"r":1.71,"n":0.97,"c":0.4,"o":1.16,"w":0.21,"p":0.25},
{"t":120,"k":0.88,"r":2.01,"n":0.84,"c":0.32,"o":1.27,"w":0.18,"p":0.27},
{"t":121,"k":1.02,"r":1.71,"n":1.01,"c":0.4,"o":1.09,"w":0.21,"p":0.24},
{"t":122,"k":0.94,"r":1.86,"n":0.74,"c":0.35,"o":1.2,"w":0.15,"p":0.29},
{"t":123,"k":1.1,"r":1.58,"n":0.87,"c":0.41,"o":1.12,"w":0.19,"p":0.21},
{"t":124,"k":0.9,"r":1.89,"n":0.75,"c":0.31,"o":1.21,"w":0.16,"p":0.26},
{"t":125,"k":1.09,"r":1.71,"n":0.95,"c":0.36,"o":1.01,"w":0.2,"p":0.23},
{"t":126,"k":0.92,"r":1.94,"n":0.7,"c":0.31,"o":1.12,"w":0.15,"p":0.26},
{"t":127,"k":1.01,"r":1.56,"n":0.88,"c":0.38,"o":1.04,"w":0.19,"p":0.18},
{"t":128,"k":0.85,"r":1.73,"n":0.78,"c":0.3,"o":1.16,"w":0.15,"p":0.22},
{"t":129,"k":1.04,"r":1.57,"n":0.93,"c":0.35,"o":0.98,"w":0.16,"p":0.19},
{"t":130,"k":0.95,"r":1.82,"n":0.66,"c":0.31,"o":1.13,"w":0.12,"p":0.24},
{"t":131,"k":1.09,"r":1.49,"n":0.83,"c":0.37,"o":0.98,"w":0.17,"p":0.17},
{"t":132,"k":0.86,"r":1.74,"n":0.74,"c":0.27,"o":1.05,"w":0.13,"p":0.23},
{"t":133,"k":0.97,"r":1.58,"n":0.93,"c":0.33,"o":0.9,"w":0.17,"p":0.17},
{"t":134,"k":0.89,"r":1.79,"n":0.69,"c":0.29,"o":1.05,"w":0.12,"p":0.19},
{"t":135,"k":1.03,"r":1.42,"n":0.92,"c":0.36,"o":0.96,"w":0.13,"p":0.14},
{"t":136,"k":0.84,"r":1.65,"n":0.71,"c":0.27,"o":1.07,"w":0.11,"p":0.19},
{"t":137,"k":1.0,"r":1.52,"n":0.82,"c":0.35,"o":0.88,"w":0.15,"p":0.16},
{"t":138,"k":0.9,"r":1.77,"n":0.62,"c":0.28,"o":0.97,"w":0.09,"p":0.21},
{"t":139,"k":1.04,"r":1.44,"n":0.85,"c":0.32,"o":0.89,"w":0.13,"p":0.13},
{"t":140,"k":0.82,"r":1.75,"n":0.73,"c":0.25,"o":1.02,"w":0.11,"p":0.16},
{"t":141,"k":0.96,"r":1.46,"n":0.91,"c":0.33,"o":0.85,"w":0.14,"p":0.14},
{"t":142,"k":0.89,"r":1.61,"n":0.63,"c":0.28,"o":0.97,"w":0.08,"p":0.18},
{"t":143,"k":1.04,"r":1.34,"n":0.77,"c":0.34,"o":0.89,"w":0.12,"p":0.12},
{"t":144,"k":0.85,"r":1.66,"n":0.65,"c":0.24,"o":0.99,"w":0.1,"p":0.17},
{"t":145,"k":1.04,"r":1.49,"n":0.84,"c":0.28,"o":0.8,"w":0.14,"p":0.13},
{"t":146,"k":0.87,"r":1.72,"n":0.6,"c":0.25,"o":0.91,"w":0.08,"p":0.17},
{"t":147,"k":0.96,"r":1.36,"n":0.79,"c":0.31,"o":0.84,"w":0.13,"p":0.1},
{"t":148,"k":0.8,"r":1.53,"n":0.68,"c":0.23,"o":0.97,"w":0.09,"p":0.14},
{"t":149,"k":0.99,"r":1.39,"n":0.84,"c":0.29,"o":0.8,"w":0.11,"p":0.11},
{"t":150,"k":0.9,"r":1.64,"n":0.57,"c":0.26,"o":0.96,"w":0.07,"p":0.17},
{"t":151,"k":1.04,"r":1.32,"n":0.75,"c":0.31,"o":0.81,"w":0.12,"p":0.1},
{"t":152,"k":0.82,"r":1.57,"n":0.65,"c":0.21,"o":0.89,"w":0.08,"p":0.16},
{"t":153,"k":0.92,"r":1.43,"n":0.85,"c":0.27,"o":0.75,"w":0.12,"p":0.1},
{"t":154,"k":0.84,"r":1.64,"n":0.6,"c":0.24,"o":0.91,"w":0.07,"p":0.13},
{"t":155,"k":0.99,"r":1.28,"n":0.84,"c":0.3,"o":0.82,"w":0.09,"p":0.08},
{"t":156,"k":0.8,"r":1.51,"n":0.63,"c":0.23,"o":0.93,"w":0.07,"p":0.14},
{"t":157,"k":0.96,"r":1.39,"n":0.74,"c":0.3,"o":0.75,"w":0.11,"p":0.1},
{"t":158,"k":0.86,"r":1.64,"n":0.54,"c":0.23,"o":0.83,"w":0.05,"p":0.15},
{"t":159,"k":1.0,"r":1.32,"n":0.77,"c":0.27,"o":0.76,"w":0.09,"p":0.08},
{"t":160,"k":0.78,"r":1.64,"n":0.65,"c":0.2,"o":0.88,"w":0.07,"p":0.11},
{"t":161,"k":0.92,"r":1.35,"n":0.83,"c":0.28,"o":0.71,"w":0.1,"p":0.09},
{"t":162,"k":0.85,"r":1.51,"n":0.55,"c":0.24,"o":0.84,"w":0.05,"p":0.13},
{"t":163,"k":1.01,"r":1.25,"n":0.69,"c":0.3,"o":0.76,"w":0.09,"p":0.07},
{"t":164,"k":1.07,"r":2.51,"n":1.22,"c":0.29,"o":1.36,"w":0.12,"p":0.24},
{"t":165,"k":1.56,"r":2.78,"n":2.16,"c":0.49,"o":1.3,"w":0.36,"p":0.42},
{"t":166,"k":1.33,"r":3.35,"n":1.88,"c":0.49,"o":1.69,"w":0.35,"p":0.67},
{"t":167,"k":1.5,"r":2.76,"n":2.34,"c":0.66,"o":1.64,"w":0.52,"p":0.6},
{"t":168,"k":1.28,"r":3.12,"n":2.19,"c":0.57,"o":1.98,"w":0.48,"p":0.79},
{"t":169,"k":1.58,"r":2.89,"n":2.56,"c":0.7,"o":1.73,"w":0.59,"p":0.78},
{"t":170,"k":1.44,"r":3.38,"n":2.06,"c":0.69,"o":2.11,"w":0.54,"p":0.95},
{"t":171,"k":1.67,"r":2.84,"n":2.44,"c":0.79,"o":1.86,"w":0.68,"p":0.84},
{"t":172,"k":1.35,"r":3.31,"n":2.28,"c":0.67,"o":2.06,"w":0.65,"p":1.0},
{"t":173,"k":1.52,"r":3.08,"n":2.68,"c":0.79,"o":1.83,"w":0.76,"p":0.9},
{"t":174,"k":1.4,"r":3.48,"n":2.22,"c":0.76,"o":2.19,"w":0.65,"p":1.0},
{"t":175,"k":1.64,"r":2.87,"n":2.72,"c":0.88,"o":2.06,"w":0.75,"p":0.91},
{"t":176,"k":1.36,"r":3.31,"n":2.31,"c":0.76,"o":2.33,"w":0.72,"p":1.07},
{"t":177,"k":1.59,"r":3.11,"n":2.55,"c":0.91,"o":2.0,"w":0.82,"p":1.02},
{"t":178,"k":1.48,"r":3.59,"n":2.17,"c":0.81,"o":2.21,"w":0.73,"p":1.14},
{"t":179,"k":1.67,"r":3.04,"n":2.65,"c":0.88,"o":2.09,"w":0.83,"p":1.0},
{"t":180,"k":1.36,"r":3.62,"n":2.42,"c":0.79,"o":2.38,"w":0.8,"p":1.1},
{"t":181,"k":1.58,"r":3.14,"n":2.78,"c":0.93,"o":2.08,"w":0.89,"p":1.06},
{"t":182,"k":1.48,"r":3.43,"n":2.24,"c":0.87,"o":2.36,"w":0.77,"p":1.18},
{"t":183,"k":1.71,"r":2.99,"n":2.51,"c":0.98,"o":2.25,"w":0.87,"p":1.06},
{"t":184,"k":1.43,"r":3.56,"n":2.3,"c":0.85,"o":2.49,"w":0.84,"p":1.19},
{"t":185,"k":1.72,"r":3.29,"n":2.69,"c":0.91,"o":2.15,"w":0.94,"p":1.14},
{"t":186,"k":1.47,"r":3.72,"n":2.21,"c":0.86,"o":2.41,"w":0.84,"p":1.25},
{"t":187,"k":1.62,"r":3.1,"n":2.6,"c":0.98,"o":2.31,"w":0.96,"p":1.11},
{"t":188,"k":1.39,"r":3.44,"n":2.39,"c":0.85,"o":2.59,"w":0.87,"p":1.23},
{"t":189,"k":1.69,"r":3.2,"n":2.72,"c":0.96,"o":2.28,"w":0.94,"p":1.19},
{"t":190,"k":1.54,"r":3.67,"n":2.18,"c":0.91,"o":2.62,"w":0.86,"p":1.32},
{"t":191,"k":1.76,"r":3.12,"n":2.54,"c":1.0,"o":2.36,"w":0.98,"p":1.19},
{"t":192,"k":1.45,"r":3.59,"n":2.35,"c":0.86,"o":2.53,"w":0.94,"p":1.35},
{"t":193,"k":1.61,"r":3.37,"n":2.74,"c":0.97,"o":2.29,"w":1.02,"p":1.24},
{"t":194,"k":1.48,"r":3.76,"n":2.25,"c":0.92,"o":2.62,"w":0.9,"p":1.33},
{"t":195,"k":1.73,"r":3.15,"n":2.73,"c":1.02,"o":2.48,"w":0.98,"p":1.22},
{"t":196,"k":1.44,"r":3.58,"n":2.31,"c":0.89,"o":2.73,"w":0.94,"p":1.37},
{"t":197,"k":1.67,"r":3.38,"n":2.54,"c":1.03,"o":2.38,"w":1.03,"p":1.31},
{"t":198,"k":1.55,"r":3.86,"n":2.15,"c":0.92,"o":2.57,"w":0.93,"p":1.43},
{"t":199,"k":1.75,"r":3.31,"n":2.62,"c":0.98,"o":2.45,"w":1.02,"p":1.28},
{"t":200,"k":1.43,"r":3.88,"n":2.38,"c":0.88,"o":2.72,"w":0.98,"p":1.37},
{"t":201,"k":1.65,"r":3.4,"n":2.74,"c":1.02,"o":2.41,"w":1.07,"p":1.32},
{"t":202,"k":1.55,"r":3.68,"n":2.19,"c":0.95,"o":2.68,"w":0.94,"p":1.44},
{"t":203,"k":1.78,"r":3.23,"n":2.46,"c":1.05,"o":2.55,"w":1.03,"p":1.31},
{"t":204,"k":1.49,"r":3.8,"n":2.24,"c":0.92,"o":2.78,"w":0.99,"p":1.44},
{"t":205,"k":1.78,"r":3.53,"n":2.63,"c":0.99,"o":2.43,"w":1.09,"p":1.38},
{"t":206,"k":1.53,"r":3.96,"n":2.14,"c":0.93,"o":2.68,"w":0.99,"p":1.49},
{"t":207,"k":1.68,"r":3.34,"n":2.53,"c":1.05,"o":2.57,"w":1.1,"p":1.34},
{"t":208,"k":1.45,"r":3.67,"n":2.32,"c":0.92,"o":2.84,"w":1.01,"p":1.46},
{"t":209,"k":1.74,"r":3.43,"n":2.64,"c":1.02,"o":2.53,"w":1.07,"p":1.4},
{"t":210,"k":1.59,"r":3.9,"n":2.1,"c":0.97,"o":2.86,"w":0.99,"p":1.53},
{"t":211,"k":1.81,"r":3.35,"n":2.45,"c":1.05,"o":2.59,"w":1.1,"p":1.4},
{"t":212,"k":1.49,"r":3.8,"n":2.27,"c":0.91,"o":2.76,"w":1.06,"p":1.54},
{"t":213,"k":1.66,"r":3.56,"n":2.65,"c":1.02,"o":2.51,"w":1.15,"p":1.43},
{"t":214,"k":1.53,"r":3.95,"n":2.17,"c":0.97,"o":2.83,"w":1.02,"p":1.51},
{"t":215,"k":1.77,"r":3.33,"n":2.64,"c":1.07,"o":2.68,"w":1.1,"p":1.39},
{"t":216,"k":1.48,"r":3.76,"n":2.22,"c":0.94,"o":2.93,"w":1.05,"p":1.54},
{"t":217,"k":1.71,"r":3.56,"n":2.45,"c":1.07,"o":2.58,"w":1.15,"p":1.48},
{"t":218,"k":1.59,"r":4.02,"n":2.06,"c":0.96,"o":2.76,"w":1.04,"p":1.59},
{"t":219,"k":1.3,"r":2.9,"n":1.3,"c":0.5,"o":2.0,"w":0.6,"p":0.7},
{"t":220,"k":1.22,"r":2.7,"n":1.12,"c":0.36,"o":1.86,"w":0.42,"p":0.46},
{"t":221,"k":1.34,"r":2.5,"n":1.22,"c":0.3,"o":1.75,"w":0.44,"p":0.4},
{"t":222,"k":1.15,"r":2.8,"n":1.0,"c":0.33,"o":1.88,"w":0.47,"p":0.38},
{"t":223,"k":1.3,"r":2.58,"n":1.18,"c":0.28,"o":1.8,"w":0.45,"p":0.41}
     ]},
     "mark": {"type": "line", "strokeWidth": 1.3, "clip": true},
     "encoding": {
       "x": {"field": "t", "type": "quantitative", "axis": null},
       "y": {"field": "v", "type": "quantitative", "axis": null},
       "color": {"field": "s", "type": "nominal",
         "scale": {"domain": ["k","r","n","c","o","w","p"], "range": ["#000000","#ff0000","#000096","#0a8a82","#b48c2d","#a0561c","#8f26f5"]},
         "legend": {"orient": "none", "legendX": 0, "legendY": 29, "title": null, "symbolType": "stroke", "symbolSize": 1521, "symbolStrokeWidth": 3, "labelFont": "Liberation Sans", "labelFontSize": 15, "labelColor": "#000", "labelOffset": 4, "rowPadding": 0.8, "padding": 0,
           "labelExpr": "datum.value=='k'?'CH₃O⁺':datum.value=='r'?'C₂H₅O⁺':datum.value=='n'?'C₄H₇⁺':datum.value=='c'?'C₄H₉⁺':datum.value=='o'?'C₃H₇O⁺':datum.value=='w'?'C₄H₇O⁺':'C₄H₇O₂⁺'"}}
     }},
    {"mark": {"type": "rule", "color": "#333", "strokeWidth": 1.2},
     "encoding": {
       "x": {"field": "start", "type": "quantitative", "axis": {"orient": "bottom", "values": [15,45,75,105,135,165,195], "labels": false, "domain": false, "title": null, "tickSize": 5}},
       "x2": {"field": "end"},
       "y": {"datum": 5.64, "type": "quantitative", "axis": {"orient": "left", "values": [0.5,1.5,2.5,3.5,4.5,5.5], "labels": false, "domain": false, "title": null, "tickSize": 5}}
     }},
    {"transform": [{"fold": ["start", "end"], "as": ["edge", "tx"]}],
     "mark": {"type": "rule", "color": "#333", "strokeWidth": 1.2},
     "encoding": {
       "x": {"field": "tx", "type": "quantitative", "axis": {"orient": "top", "values": [15,45,75,105,135,165,195], "labels": false, "domain": false, "title": null, "tickSize": 5}},
       "y": {"datum": 5.58, "type": "quantitative", "axis": null},
       "y2": {"datum": 5.7}
     }},
    {"transform": [{"calculate": "(datum.start + datum.end) / 2", "as": "mid"}],
     "mark": {"type": "text", "text": "Lights on", "font": "Liberation Sans", "fontSize": 19, "baseline": "middle", "color": "#000"},
     "encoding": {
       "x": {"field": "mid", "type": "quantitative", "axis": null},
       "y": {"datum": 5.81, "type": "quantitative", "axis": null}
     }},
    {"data": {"values": [{}]},
     "mark": {"type": "text", "text": "b -", "font": "Liberation Sans", "fontSize": 19, "align": "left", "baseline": "alphabetic", "color": "#000"},
     "encoding": {"x": {"datum": 7.1, "type": "quantitative", "axis": null}, "y": {"datum": 5.62, "type": "quantitative", "axis": null}}},
    {"data": {"values": [{}]},
     "mark": {"type": "text", "text": "C", "font": "Liberation Sans", "fontSize": 20, "fontWeight": "bold", "align": "left", "baseline": "alphabetic", "color": "#000"},
     "encoding": {"x": {"datum": 21.0, "type": "quantitative", "axis": null}, "y": {"datum": 5.61, "type": "quantitative", "axis": null}}},
    {"data": {"values": [{}]},
     "mark": {"type": "text", "text": "6", "font": "Liberation Sans", "fontSize": 20, "fontWeight": "bold", "align": "left", "baseline": "alphabetic", "color": "#000"},
     "encoding": {"x": {"datum": 27.8, "type": "quantitative", "axis": null}, "y": {"datum": 5.51, "type": "quantitative", "axis": null}}}
  ]
}
]
}
